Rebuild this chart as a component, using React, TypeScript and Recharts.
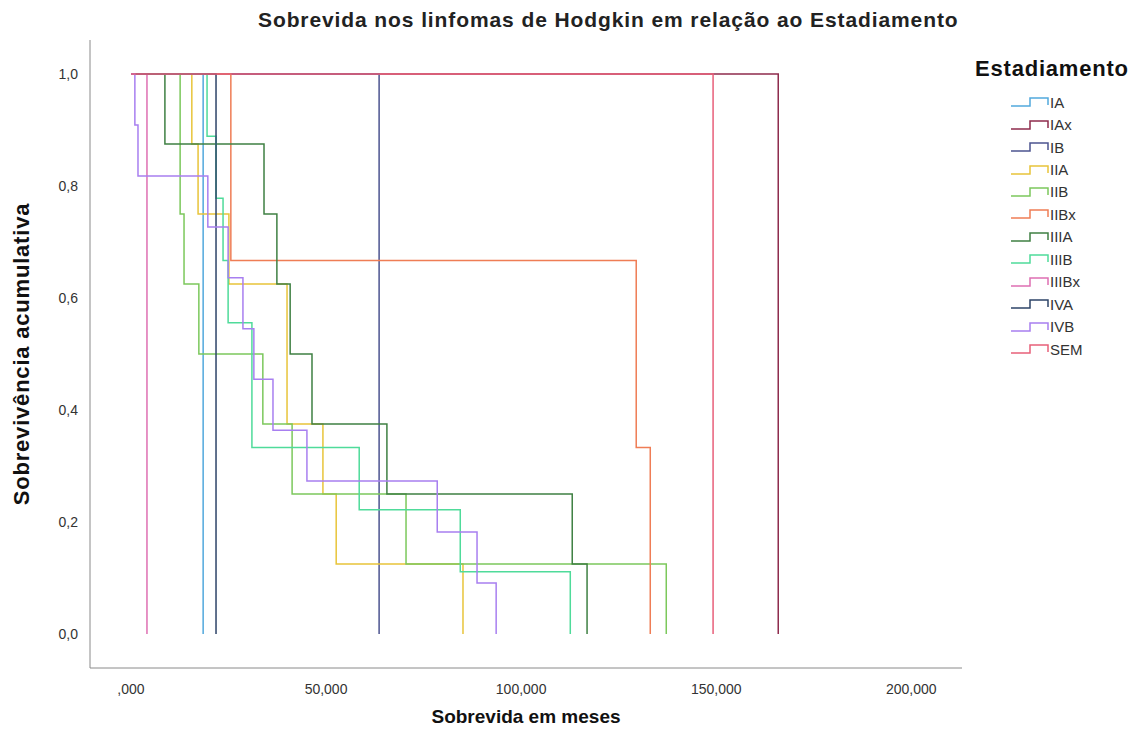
import React from 'react';
import { LineChart, Line, XAxis, YAxis } from 'recharts';

// Kaplan-Meier steps per group: event time (months) and survival after it
const IA_T = [18.5];
const IA_S = [0];
const IAX_T = [165.9];
const IAX_S = [0];
const IB_T = [63.6];
const IB_S = [0];
const IIA_T = [15.6, 17.2, 25.1, 40.0, 49.2, 52.6, 85.1];
const IIA_S = [0.875, 0.75, 0.625, 0.375, 0.25, 0.125, 0];
const IIB_T = [12.6, 13.6, 17.4, 33.8, 41.3, 70.5, 137.2];
const IIB_S = [0.75, 0.625, 0.5, 0.375, 0.25, 0.125, 0];
const IIBX_T = [25.6, 129.5, 133.1];
const IIBX_S = [0.667, 0.333, 0];
const IIIA_T = [8.7, 34.1, 37.4, 40.8, 46.4, 65.6, 113.1, 116.9];
const IIIA_S = [0.875, 0.75, 0.625, 0.5, 0.375, 0.25, 0.125, 0];
const IIIB_T = [19.5, 21.8, 23.6, 24.9, 31.0, 58.5, 84.4, 112.6];
const IIIB_S = [0.889, 0.778, 0.667, 0.556, 0.333, 0.222, 0.111, 0];
const IIIBX_T = [4.1];
const IIIBX_S = [0];
const IVA_T = [21.8];
const IVA_S = [0];
const IVB_T = [1.0, 1.8, 19.7, 24.9, 28.7, 31.5, 36.4, 45.1, 78.5, 88.7, 93.6];
const IVB_S = [0.909, 0.818, 0.727, 0.636, 0.545, 0.455, 0.364, 0.273, 0.182, 0.091, 0];
const SEM_T = [149.2];
const SEM_S = [0];

const X_TICKS = [0, 50, 100, 150, 200];
const Y_TICKS = [0, 0.2, 0.4, 0.6, 0.8, 1.0];

const steps = (times: number[], surv: number[]) =>
  [{ t: 0, s: 1 }, ...times.map((t, i) => ({ t, s: surv[i] }))];

const SERIES = [
  { name: 'IA', color: '#52a9dd', data: steps(IA_T, IA_S) },
  { name: 'IAx', color: '#8e2b4c', data: steps(IAX_T, IAX_S) },
  { name: 'IB', color: '#4c5490', data: steps(IB_T, IB_S) },
  { name: 'IIA', color: '#e8c43a', data: steps(IIA_T, IIA_S) },
  { name: 'IIB', color: '#7cc85c', data: steps(IIB_T, IIB_S) },
  { name: 'IIBx', color: '#ef7d55', data: steps(IIBX_T, IIBX_S) },
  { name: 'IIIA', color: '#3f8043', data: steps(IIIA_T, IIIA_S) },
  { name: 'IIIB', color: '#4fdb9a', data: steps(IIIB_T, IIIB_S) },
  { name: 'IIIBx', color: '#de6fb3', data: steps(IIIBX_T, IIIBX_S) },
  { name: 'IVA', color: '#2e4468', data: steps(IVA_T, IVA_S) },
  { name: 'IVB', color: '#a87ff0', data: steps(IVB_T, IVB_S) },
  { name: 'SEM', color: '#e8607a', data: steps(SEM_T, SEM_S) },
];

const FONT = '"Liberation Sans", Arial, sans-serif';

const fmtX = (v: number) => (v === 0 ? ',000' : `${v},000`);
const fmtY = (v: number) => v.toFixed(1).replace('.', ',');

const StepIcon = ({ color }: { color: string }) => (
  <svg width={40} height={14} style={{ display: 'block' }}>
    <polyline points="1,11 20,11 20,3 38,3 38,10" fill="none" stroke={color} strokeWidth={1.5} />
  </svg>
);

export default function App() {
  return (
    <div style={{ position: 'absolute', left: 0, top: 0, width: 1136, height: 740, background: '#fff', fontFamily: FONT }}>
      <LineChart width={1136} height={740} margin={{ top: 40, right: 174, bottom: 32, left: 30 }}>
        <XAxis
          dataKey="t"
          type="number"
          domain={[-10.5, 213]}
          allowDataOverflow
          ticks={X_TICKS}
          tickFormatter={fmtX}
          tickLine={false}
          tickSize={0}
          tickMargin={16}
          height={40}
          axisLine={{ stroke: '#8a8a8a' }}
          tick={{ fill: '#333', fontSize: 14, fontFamily: FONT }}
        />
        <YAxis
          type="number"
          domain={[-0.0607, 1.0607]}
          allowDataOverflow
          ticks={Y_TICKS}
          tickFormatter={fmtY}
          tickLine={false}
          tickSize={0}
          tickMargin={12}
          width={60}
          axisLine={{ stroke: '#8a8a8a' }}
          tick={{ fill: '#333', fontSize: 14, fontFamily: FONT }}
        />
        {SERIES.map(s => (
          <Line
            key={s.name}
            data={s.data}
            dataKey="s"
            type="stepAfter"
            stroke={s.color}
            strokeWidth={1.5}
            dot={false}
            activeDot={false}
            isAnimationActive={false}
          />
        ))}
      </LineChart>

      <div style={{ position: 'absolute', left: 258, top: 8, fontSize: 21, fontWeight: 'bold', letterSpacing: 0.9, color: '#222', whiteSpace: 'nowrap' }}>
        Sobrevida nos linfomas de Hodgkin em relação ao Estadiamento
      </div>
      <div style={{ position: 'absolute', left: 90, width: 872, top: 706, textAlign: 'center', fontSize: 19, fontWeight: 'bold', color: '#111' }}>
        Sobrevida em meses
      </div>
      <div style={{ position: 'absolute', left: 22, top: 354, width: 0, height: 0 }}>
        <div style={{ position: 'absolute', left: -200, top: -13, width: 400, textAlign: 'center', transform: 'rotate(-90deg)', fontSize: 22, fontWeight: 'bold', letterSpacing: 0.8, color: '#111', whiteSpace: 'nowrap' }}>
          Sobrevivência acumulativa
        </div>
      </div>

      <div style={{ position: 'absolute', left: 975, top: 56, fontSize: 22, fontWeight: 'bold', letterSpacing: 0.8, color: '#111' }}>Estadiamento</div>
      <div style={{ position: 'absolute', left: 1010, top: 91 }}>
        {SERIES.map(s => (
          <div key={s.name} style={{ display: 'flex', alignItems: 'center', height: 22.45, fontSize: 15, color: '#333' }}>
            <StepIcon color={s.color} />
            <span>{s.name}</span>
          </div>
        ))}
      </div>
    </div>
  );
}
